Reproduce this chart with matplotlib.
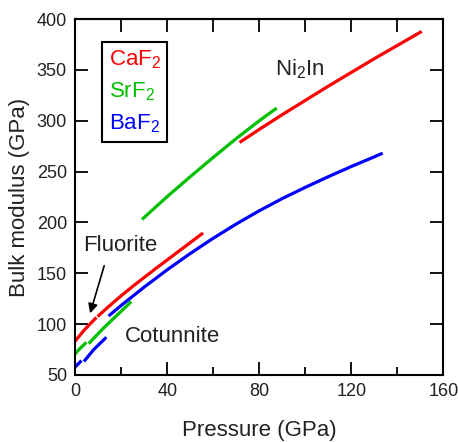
import numpy as np
import matplotlib
matplotlib.use('Agg')
from matplotlib import pyplot as plt

plt.rcParams['font.family'] = ['Liberation Sans', 'DejaVu Sans']
plt.rcParams['mathtext.fontset'] = 'custom'
plt.rcParams['mathtext.rm'] = 'Liberation Sans'
plt.rcParams['mathtext.it'] = 'Liberation Sans'

# Bulk modulus vs pressure, three phases per compound
# (fluorite -> cotunnite -> Ni2In)
# CaF2
caf2_fl_P = [0, 4, 8.7]
caf2_fl_B = [83.5, 94.5, 105.5]
caf2_co_P = [10.2, 15, 20, 25, 30, 35, 40, 45, 50, 55]
caf2_co_B = [108.5, 118.3, 128, 137.2, 146, 154.7, 163.2, 171.7, 180.2, 188.7]
caf2_ni_P = [72, 80, 90, 100, 110, 120, 130, 140, 150]
caf2_ni_B = [279.5, 291.5, 306, 320, 334, 347.5, 361, 374, 387]

# SrF2
srf2_fl_P = [0, 2, 4.3]
srf2_fl_B = [71, 76, 81]
srf2_co_P = [6.3, 12, 18, 23.8]
srf2_co_B = [82, 95.5, 108.5, 121]
srf2_ni_P = [29.5, 40, 50, 60, 70, 80, 87]
srf2_ni_B = [204, 225.5, 245, 264, 282.5, 300, 311.5]

# BaF2
baf2_fl_P = [0, 2.2]
baf2_fl_B = [58, 63]
baf2_co_P = [4.2, 8, 13]
baf2_co_B = [64.5, 75, 86]
baf2_ni_P = [15, 20, 30, 40, 50, 60, 70, 80, 90, 100, 110, 120, 130, 133]
baf2_ni_B = [109, 118.5, 136.5, 153.5, 169.5, 184.5, 198.5, 211.5, 223.5, 234.5, 245, 255, 264.5, 267.5]

red = '#ff0000'
green = '#00c000'
blue = '#0000ff'
txt = '#222222'
lw = 2.3

fig = plt.figure(figsize=(4.58, 4.42), dpi=100)
ax = fig.add_axes([0.1644, 0.1516, 0.8036, 0.8054])

ax.plot(caf2_fl_P, caf2_fl_B, color=red, lw=lw, label='CaF$_2$')
ax.plot(caf2_co_P, caf2_co_B, color=red, lw=lw)
ax.plot(caf2_ni_P, caf2_ni_B, color=red, lw=lw)
ax.plot(srf2_fl_P, srf2_fl_B, color=green, lw=lw, label='SrF$_2$')
ax.plot(srf2_co_P, srf2_co_B, color=green, lw=lw)
ax.plot(srf2_ni_P, srf2_ni_B, color=green, lw=lw)
ax.plot(baf2_fl_P, baf2_fl_B, color=blue, lw=lw, label='BaF$_2$')
ax.plot(baf2_co_P, baf2_co_B, color=blue, lw=lw)
ax.plot(baf2_ni_P, baf2_ni_B, color=blue, lw=lw)

ax.set_xlim(0, 160)
ax.set_ylim(50, 400)
ax.set_xticks([0, 40, 80, 120, 160])
ax.set_xticks([20, 60, 100, 140], minor=True)
ax.set_yticks(np.arange(50, 401, 50))
ax.tick_params(which='major', direction='in', length=9.5, width=1.3,
               labelsize=13, labelcolor=txt, right=True, pad=6)
ax.tick_params(which='minor', direction='in', length=6, width=1.3)
for s in ax.spines.values():
    s.set_linewidth(1.5)

top = ax.secondary_xaxis('top')
top.set_xticks(np.arange(20, 160, 20))
top.tick_params(direction='in', length=9.5, width=1.3, labeltop=False)
top.spines['top'].set_linewidth(1.5)

ax.set_xlabel('Pressure (GPa)', fontsize=16, color=txt, labelpad=14)
ax.set_ylabel('Bulk modulus (GPa)', fontsize=16, color=txt, labelpad=5)

leg = ax.legend(loc='upper left', bbox_to_anchor=(0.0726, 0.936), borderaxespad=0,
                handlelength=0, handletextpad=0, fontsize=16, labelcolor='linecolor',
                fancybox=False, framealpha=1, edgecolor='k', labelspacing=0.42,
                borderpad=0.3)
leg.get_frame().set_linewidth(1.5)
for h in leg.legend_handles:
    h.set_visible(False)

ax.text(86.8, 344.9, 'Ni$_2$In', fontsize=16, color=txt, va='baseline', ha='left')
ax.text(3.3, 172.2, 'Fluorite', fontsize=16, color=txt, va='baseline', ha='left')
ax.text(21.6, 82.7, 'Cotunnite', fontsize=16, color=txt, va='baseline', ha='left')
ax.annotate('', xy=(6.1, 108), xytext=(12.9, 160),
            arrowprops=dict(arrowstyle='-|>', color='k', lw=1.2, mutation_scale=14))

fig.savefig('out.png', dpi=100)
